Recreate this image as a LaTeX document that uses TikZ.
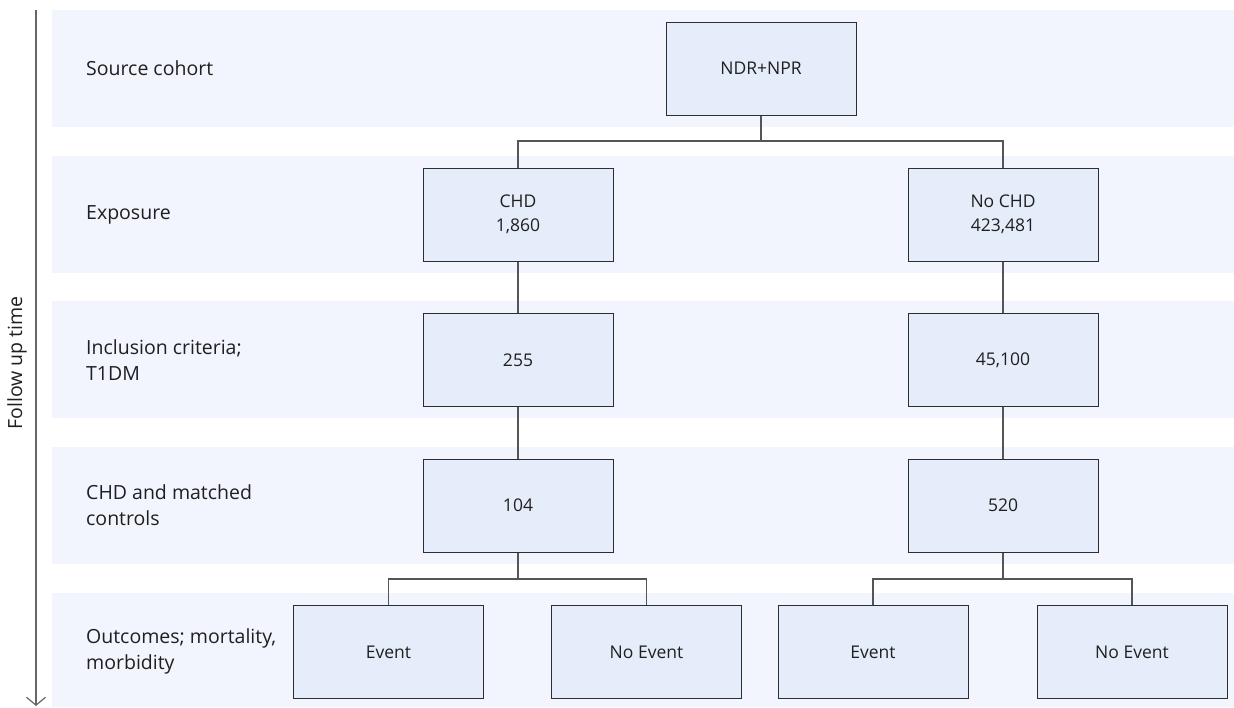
\documentclass[tikz,border=0pt]{standalone}
\usepackage{fontspec}
\setmainfont{Open Sans}
\usetikzlibrary{arrows.meta}
\definecolor{bandbg}{HTML}{F2F5FD}
\definecolor{boxbg}{HTML}{E6EDFA}
\definecolor{boxline}{HTML}{2E2E2E}
\definecolor{connc}{HTML}{555555}
\definecolor{textc}{HTML}{1F1F1F}
\definecolor{axisc}{HTML}{666666}
\begin{document}
\begin{tikzpicture}[x=1pt,y=-1pt,
  box/.style={draw=boxline, line width=1pt, fill=boxbg, minimum width=190pt, minimum height=93pt, inner sep=0pt, align=center, font=\fontsize{17.5}{24}\selectfont, text=textc},
  lab/.style={anchor=west, align=left, inner sep=0pt, font=\fontsize{19.5}{26}\selectfont, text=textc},
  conn/.style={draw=connc, line width=1.3pt},
  band/.style={fill=bandbg}]
\useasboundingbox (0,0) rectangle (1234,707);
% bands
\fill[band] (52,10) rectangle (1234,127);
\fill[band] (52,155.7) rectangle (1234,272.7);
\fill[band] (52,301.4) rectangle (1234,418.4);
\fill[band] (52,447) rectangle (1234,564);
\fill[band] (52,592.7) rectangle (1234,707);
% labels
\node[lab] (l1) at (86,68.5) {Source cohort};
\node[lab] (l2) at (86,214.5) {Exposure};
\node[lab] (l3) at (86,360) {Inclusion criteria;\\T1DM};
\node[lab] (l4) at (86,505.5) {CHD and matched\\controls};
\node[lab] (l5) at (86,651.5) {Outcomes; mortality,\\morbidity};
% axis
\coordinate (ta) at (36,10);
\coordinate (tb) at (36,706);
\draw[draw=axisc, line width=1.2pt, -{Straight Barb[length=8pt,width=19pt]}] (ta) -- (tb);
\node[rotate=90, inner sep=0pt, font=\fontsize{19.5}{24}\selectfont, text=textc] (fut) at (17,363) {Follow up time};
% boxes
\node[box] (src) at (761,68.5) {NDR+NPR};
\node[box] (chd) at (518,214.5) {CHD\\1,860};
\node[box] (nochd) at (1003,214.5) {No CHD\\423,481};
\node[box] (inc1) at (518,360) {255};
\node[box] (inc2) at (1003,360) {45,100};
\node[box] (m1) at (518,505.5) {104};
\node[box] (m2) at (1003,505.5) {520};
\node[box] (e1) at (388.5,652) {Event};
\node[box] (ne1) at (646.5,652) {No Event};
\node[box] (e2) at (873,652) {Event};
\node[box] (ne2) at (1132,652) {No Event};
% connectors
\coordinate (j1) at (761,141);
\coordinate (j2) at (518,579);
\coordinate (j3) at (1003,579);
\draw[conn] (src.south) -- (j1);
\draw[conn] (chd.north) |- (j1) -| (nochd.north);
\draw[conn] (chd.south) -- (inc1.north);
\draw[conn] (nochd.south) -- (inc2.north);
\draw[conn] (inc1.south) -- (m1.north);
\draw[conn] (inc2.south) -- (m2.north);
\draw[conn] (m1.south) -- (j2);
\draw[conn] (e1.north) |- (j2) -| (ne1.north);
\draw[conn] (m2.south) -- (j3);
\draw[conn] (e2.north) |- (j3) -| (ne2.north);
\end{tikzpicture}
\end{document}
